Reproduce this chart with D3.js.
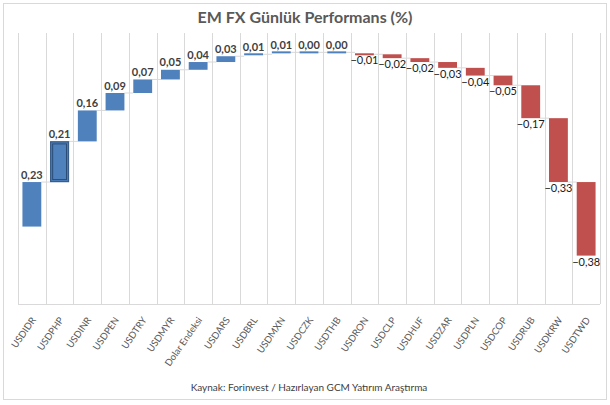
<!DOCTYPE html>
<html><head><meta charset="utf-8">
<script src="https://cdn.jsdelivr.net/npm/d3@7/dist/d3.min.js"></script>
<style>body{margin:0;background:#fff;}svg{display:block;}</style>
</head><body><svg id="c" width="610" height="405"></svg>
<script>
const categories = ["USDIDR","USDPHP","USDINR","USDPEN","USDTRY","USDMYR","Dolar Endeksi","USDARS","USDBRL","USDMXN","USDCZK","USDTHB","USDRON","USDCLP","USDHUF","USDZAR","USDPLN","USDCOP","USDRUB","USDKRW","USDTWD"];
const values = [0.23,0.21,0.16,0.09,0.07,0.05,0.04,0.03,0.01,0.01,0.00,0.00,-0.01,-0.02,-0.02,-0.03,-0.04,-0.05,-0.17,-0.33,-0.38];
const yDomain = [-0.4, 1.0];
const title = "EM FX Günlük Performans (%)";
const source = "Kaynak: Forinvest / Hazırlayan GCM Yatırım Araştırma";
const highlighted = "USDPHP";

const svg = d3.select("#c");
const font = "Lato, 'Open Sans', sans-serif";
const plot = {left: 18, right: 600, top: 33, bottom: 304};

svg.append("rect").attr("x",3.5).attr("y",3.5).attr("width",603).attr("height",396)
  .attr("fill","#fff").attr("stroke","#d9d9d9").attr("stroke-width",1);

// cumulative
let cum = 0;
const data = categories.map((c,i)=>{ const start = cum; cum += values[i]; return {cat:c, v:values[i], start, end:cum}; });

const x = d3.scaleBand().domain(categories).range([plot.left, plot.right]).paddingInner(0.32).paddingOuter(0.16);
const y = d3.scaleLinear().domain(yDomain).range([plot.bottom, plot.top]);
const step = x.step();

// vertical gridlines at category boundaries
const bounds = d3.range(categories.length + 1).map(i => plot.left + i*step);
svg.append("g").selectAll("line").data(bounds).join("line")
  .attr("x1",d=>Math.round(d)+0.5).attr("x2",d=>Math.round(d)+0.5)
  .attr("y1",plot.top).attr("y2",plot.bottom)
  .attr("stroke","#d9d9d9").attr("stroke-width",1);
// axis line
svg.append("line").attr("x1",plot.left).attr("x2",plot.right)
  .attr("y1",plot.bottom+0.5).attr("y2",plot.bottom+0.5).attr("stroke","#d9d9d9");

// connectors
svg.append("g").selectAll("line").data(data.slice(0,-1)).join("line")
  .attr("x1",d=>x(d.cat)+x.bandwidth()).attr("x2",(d,i)=>x(categories[i+1]))
  .attr("y1",d=>y(d.end)).attr("y2",d=>y(d.end))
  .attr("stroke","#d9d9d9").attr("stroke-width",1);

// bars
const minH = 2;
svg.append("g").selectAll("rect").data(data).join("rect")
  .attr("x",d=>x(d.cat)).attr("width",x.bandwidth())
  .attr("y",d=>{ const t = Math.min(y(d.start),y(d.end)); const h = Math.abs(y(d.start)-y(d.end)); return h<minH ? y(d.end)-minH/2 : t; })
  .attr("height",d=>Math.max(minH, Math.abs(y(d.start)-y(d.end))))
  .attr("fill",d=>d.v>=0 ? "#4f81bd" : "#c0504d");

// highlighted bar outline
const hd = data.find(d=>d.cat===highlighted);
if (hd) {
  const t = Math.min(y(hd.start),y(hd.end)), h = Math.abs(y(hd.start)-y(hd.end));
  svg.append("rect").attr("x",x(hd.cat)+0.5).attr("y",t+0.5).attr("width",x.bandwidth()-1).attr("height",h-1)
    .attr("fill","none").attr("stroke","#385d8a").attr("stroke-width",1.3);
  svg.append("rect").attr("x",x(hd.cat)+2.5).attr("y",t+2.5).attr("width",x.bandwidth()-5).attr("height",h-5)
    .attr("fill","none").attr("stroke","#2c4d75").attr("stroke-width",1);
}

// value labels
const fmt = v => d3.format(".2f")(v).replace(".",",");
svg.append("g").selectAll("text").data(data).join("text")
  .attr("x",d=>x(d.cat)+x.bandwidth()/2)
  .attr("y",d=> d.v>=0 ? Math.min(y(d.start),y(d.end))-3.5 : Math.max(y(d.start),y(d.end))+10)
  .attr("text-anchor","middle")
  .attr("font-family",font).attr("font-size",11)
  .attr("font-weight",d=>d.v>=0?"bold":"normal")
  .attr("fill",d=>d.v>=0?"#404040":"#1a1a1a")
  .text(d=>fmt(d.v));

// category labels
svg.append("g").selectAll("text").data(categories).join("text")
  .attr("transform",d=>`translate(${x(d)+x.bandwidth()/2+4.5},${plot.bottom+16}) rotate(-55)`)
  .attr("text-anchor","end")
  .attr("font-family",font).attr("font-size",9.5).attr("fill","#595959")
  .text(d=>d);

// title
svg.append("text").attr("x",305).attr("y",23).attr("text-anchor","middle")
  .attr("font-family",font).attr("font-size",16).attr("font-weight","bold").attr("fill","#595959")
  .text(title);
// source
svg.append("text").attr("x",309).attr("y",391).attr("text-anchor","middle")
  .attr("font-family",font).attr("font-size",10).attr("fill","#404040")
  .text(source);
</script></body></html>
